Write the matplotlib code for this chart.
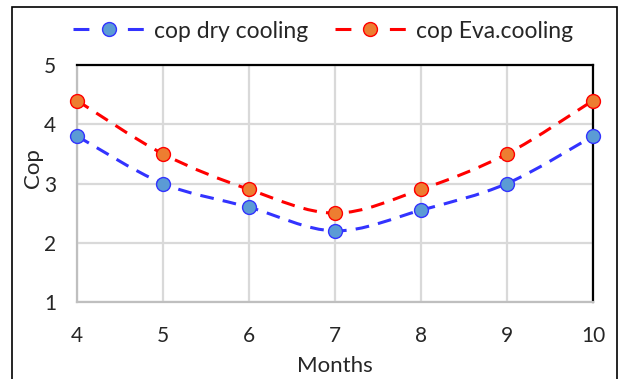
import numpy as np
import matplotlib.pyplot as plt
from matplotlib.path import Path
from matplotlib.patches import PathPatch, Rectangle
from matplotlib.lines import Line2D

plt.rcParams['font.family'] = ['Lato', 'DejaVu Sans']

months = [4, 5, 6, 7, 8, 9, 10]
cop_dry = [3.8, 3.0, 2.6, 2.2, 2.55, 3.0, 3.8]
cop_eva = [4.4, 3.5, 2.9, 2.5, 2.9, 3.5, 4.4]
y_ticks = [1, 2, 3, 4, 5]

W, H = 623, 379
DASH = (0, (4.5, 3.0))
LEG_DASH = (0, (5.2, 12.6))  # dash - marker - dash in the legend key


def smooth_path(x, y):
    # Catmull-Rom style cubic Bezier through the points (smoothed line)
    pts = np.column_stack([x, y]).astype(float)
    verts = [pts[0]]
    codes = [Path.MOVETO]
    n = len(pts)
    for i in range(n - 1):
        p0 = pts[i - 1] if i > 0 else pts[i]
        p1 = pts[i]
        p2 = pts[i + 1]
        p3 = pts[i + 2] if i + 2 < n else pts[i + 1]
        c1 = p1 + (p2 - p0) / 6.0
        c2 = p2 - (p3 - p1) / 6.0
        verts += [c1, c2, p2]
        codes += [Path.CURVE4] * 3
    return Path(verts, codes)


fig = plt.figure(figsize=(W / 100, H / 100), dpi=100)
ax = fig.add_axes([77 / W, 1 - 302 / H, 516 / W, 237 / H])

series = [
    (cop_dry, '#3333ff', '#5b9bd5', 'cop dry cooling'),
    (cop_eva, '#ff0000', '#ed7d31', 'cop Eva.cooling'),
]
handles = []
for vals, lc, mc, label in series:
    patch = PathPatch(smooth_path(months, vals), facecolor='none', edgecolor=lc,
                      lw=2.2, linestyle=DASH, zorder=3, clip_on=False)
    ax.add_patch(patch)
    ax.plot(months, vals, linestyle='none', marker='o', ms=10,
            markerfacecolor=mc, markeredgecolor=lc, markeredgewidth=1.0,
            zorder=4, clip_on=False)
    handles.append(Line2D([], [], color=lc, lw=2.2, linestyle=LEG_DASH,
                          marker='o', ms=10, markerfacecolor=mc,
                          markeredgecolor=lc, markeredgewidth=1.0, label=label))

ax.set_xlim(4, 10)
ax.set_ylim(1, 5)
ax.set_xticks(months)
ax.set_yticks(y_ticks)
ax.grid(True, color='#d9d9d9', lw=1.6)
ax.set_axisbelow(True)
ax.tick_params(length=0, labelsize=15, colors='#262626')
ax.tick_params(axis='x', pad=17)
ax.tick_params(axis='y', pad=15)

for side in ['left', 'bottom']:
    ax.spines[side].set_color('#bfbfbf')
    ax.spines[side].set_linewidth(1.6)
for side in ['top', 'right']:
    ax.spines[side].set_color('black')
    ax.spines[side].set_linewidth(1.6)

ax.set_xlabel('Months', fontsize=16, color='#262626')
ax.xaxis.set_label_coords(0.5, -(366 - 302) / 237, transform=ax.transAxes)
ax.xaxis.label.set_verticalalignment('center')
ax.set_ylabel('Cop', fontsize=16, color='#262626')
ax.yaxis.set_label_coords(-(77 - 33) / 516, (302 - 168) / 237, transform=ax.transAxes)
ax.yaxis.label.set_verticalalignment('center')

leg = fig.legend(handles=handles, loc='center left', bbox_to_anchor=(73 / W, 1 - 31 / H),
                 ncol=2, frameon=False, fontsize=16.5, handlelength=3.1,
                 columnspacing=1.14, handletextpad=0.45, borderpad=0, borderaxespad=0)
for t in leg.get_texts():
    t.set_color('#262626')

# outer chart border
fig.patches.append(Rectangle((12 / W, -0.05), 605 / W, 1 - 7 / H + 0.05,
                             transform=fig.transFigure, fill=False,
                             edgecolor='black', lw=1.2))

fig.savefig('out.png', dpi=100)
